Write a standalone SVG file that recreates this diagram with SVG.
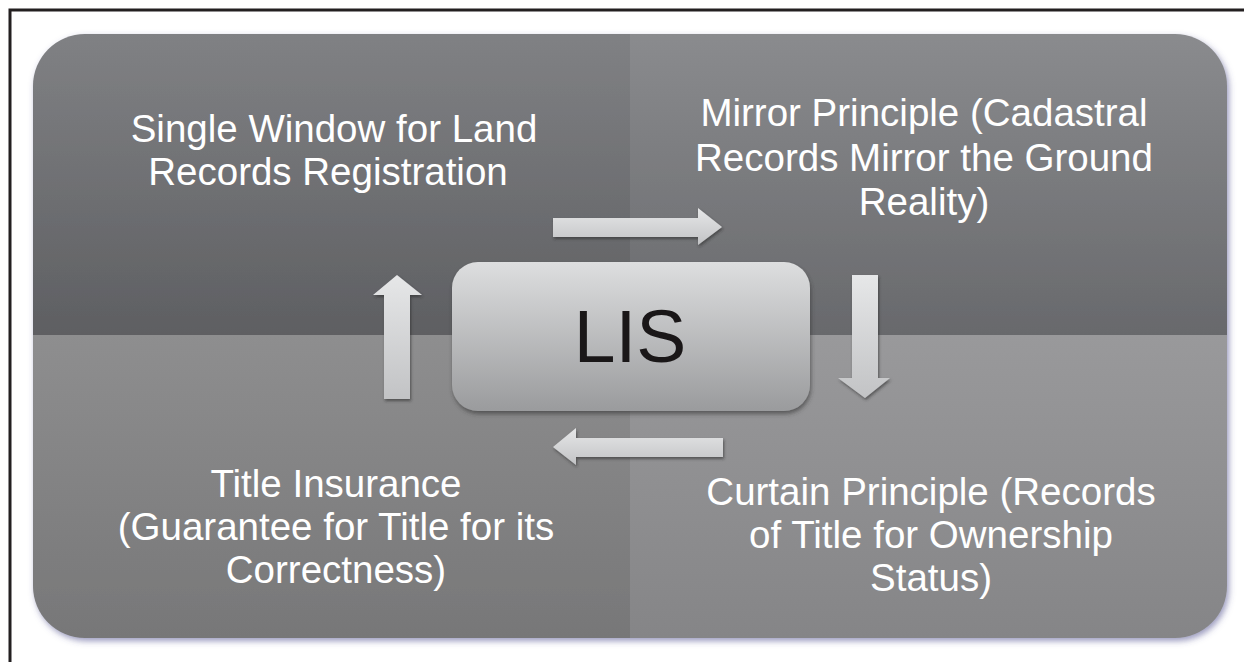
<svg xmlns="http://www.w3.org/2000/svg" width="1244" height="662" viewBox="0 0 1244 662">
  <defs>
    <style>
      .label { font-family: "Liberation Sans", Arial, sans-serif; font-size: 38.5px; fill: #ffffff; text-anchor: middle; }
      .hub { font-family: "Liberation Sans", Arial, sans-serif; font-size: 75px; fill: #1a1718; text-anchor: middle; }
      .arrow { fill: url(#arrowFill); filter: url(#arrowShadow); }
    </style>
    <linearGradient id="qTL" x1="0" y1="0" x2="0" y2="1">
      <stop offset="0" stop-color="#808184"/>
      <stop offset="1" stop-color="#5e5f62"/>
    </linearGradient>
    <linearGradient id="qTR" x1="0" y1="0" x2="0" y2="1">
      <stop offset="0" stop-color="#8a8b8e"/>
      <stop offset="1" stop-color="#68696c"/>
    </linearGradient>
    <linearGradient id="qBL" x1="0" y1="0" x2="0" y2="1">
      <stop offset="0" stop-color="#8e8e8f"/>
      <stop offset="1" stop-color="#777778"/>
    </linearGradient>
    <linearGradient id="qBR" x1="0" y1="0" x2="0" y2="1">
      <stop offset="0" stop-color="#99999b"/>
      <stop offset="1" stop-color="#858587"/>
    </linearGradient>
    <linearGradient id="hubFill" x1="0" y1="0" x2="0" y2="1">
      <stop offset="0" stop-color="#dddedf"/>
      <stop offset="1" stop-color="#9a9b9d"/>
    </linearGradient>
    <linearGradient id="arrowFill" x1="0" y1="0" x2="0" y2="1">
      <stop offset="0" stop-color="#e6e7e8"/>
      <stop offset="1" stop-color="#c2c3c5"/>
    </linearGradient>
    <clipPath id="panelClip">
      <rect x="33" y="34" width="1194" height="604" rx="52" ry="52"/>
    </clipPath>
    <filter id="panelShadow" x="-5%" y="-5%" width="110%" height="110%">
      <feGaussianBlur in="SourceAlpha" stdDeviation="3"/>
      <feOffset dx="2" dy="3" result="b"/>
      <feFlood flood-color="#4a4a8a" flood-opacity="0.55"/>
      <feComposite in2="b" operator="in"/>
      <feMerge><feMergeNode/><feMergeNode in="SourceGraphic"/></feMerge>
    </filter>
    <filter id="arrowShadow" x="-20%" y="-20%" width="140%" height="140%">
      <feGaussianBlur in="SourceAlpha" stdDeviation="1.5"/>
      <feOffset dx="1" dy="2" result="b"/>
      <feFlood flood-color="#2a2a2a" flood-opacity="0.6"/>
      <feComposite in2="b" operator="in"/>
      <feMerge><feMergeNode/><feMergeNode in="SourceGraphic"/></feMerge>
    </filter>
    <filter id="hubShadow" x="-10%" y="-10%" width="120%" height="125%">
      <feGaussianBlur in="SourceAlpha" stdDeviation="2"/>
      <feOffset dx="1" dy="3" result="b"/>
      <feFlood flood-color="#333333" flood-opacity="0.6"/>
      <feComposite in2="b" operator="in"/>
      <feMerge><feMergeNode/><feMergeNode in="SourceGraphic"/></feMerge>
    </filter>
  </defs>

  <!-- page background and frame -->
  <rect x="0" y="0" width="1244" height="662" fill="#ffffff"/>
  <path d="M10,662 V10 H1244" fill="none" stroke="#231f20" stroke-width="3"/>

  <!-- four-quadrant panel -->
  <g id="panel" filter="url(#panelShadow)">
    <g clip-path="url(#panelClip)">
      <rect x="33" y="34" width="597" height="301" fill="url(#qTL)"/>
      <rect x="630" y="34" width="597" height="301" fill="url(#qTR)"/>
      <rect x="33" y="335" width="597" height="303" fill="url(#qBL)"/>
      <rect x="630" y="335" width="597" height="303" fill="url(#qBR)"/>
    </g>
  </g>

  <!-- quadrant labels -->
  <g id="single-window">
    <text class="label" x="334" y="142">Single Window for Land</text>
    <text class="label" x="328" y="185">Records Registration</text>
  </g>
  <g id="mirror-principle">
    <text class="label" x="924" y="126">Mirror Principle (Cadastral</text>
    <text class="label" x="924" y="171">Records Mirror the Ground</text>
    <text class="label" x="924" y="215">Reality)</text>
  </g>
  <g id="title-insurance">
    <text class="label" x="336" y="497">Title Insurance</text>
    <text class="label" x="336" y="540">(Guarantee for Title for its</text>
    <text class="label" x="336" y="583">Correctness)</text>
  </g>
  <g id="curtain-principle">
    <text class="label" x="931" y="505">Curtain Principle (Records</text>
    <text class="label" x="931" y="548">of Title for Ownership</text>
    <text class="label" x="931" y="591">Status)</text>
  </g>

  <!-- central hub -->
  <g id="lis">
    <rect x="452" y="262" width="358" height="149" rx="26" ry="26" fill="url(#hubFill)" filter="url(#hubShadow)"/>
    <text class="hub" x="630" y="362">LIS</text>
  </g>

  <!-- cycle arrows -->
  <g id="connectors">
    <path class="arrow" d="M553,218 H698 V208 L722,227 L698,245 V237 H553 Z"/>
    <path class="arrow" d="M852,275 H878 V378 H890 L865,398 L838,378 H852 Z"/>
    <path class="arrow" d="M723,438 H576 V428 L553,447 L576,465 V457 H723 Z"/>
    <path class="arrow" d="M384,399 V295 H373 L397,275 L422,295 H410 V399 Z"/>
  </g>
</svg>
